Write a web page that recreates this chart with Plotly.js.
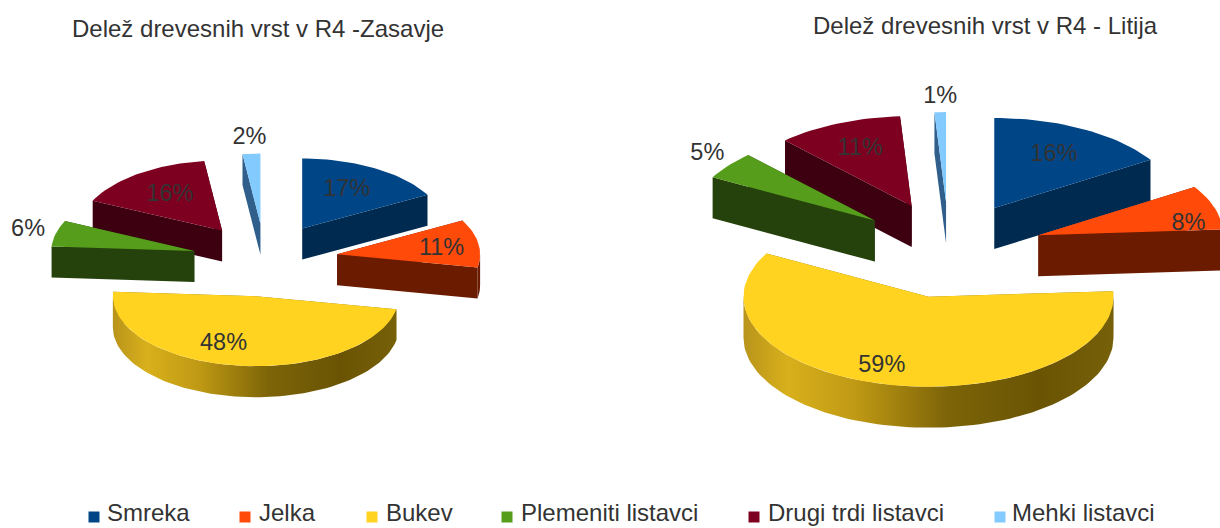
<!DOCTYPE html>
<html><head><meta charset="utf-8">
<script src="https://cdn.plot.ly/plotly-3.0.1.min.js"></script>
<style>html,body{margin:0;padding:0;background:#fff}#c{width:1220px;height:528px}</style>
</head><body><div id="c"></div>
<script>
// --- data ---
const species = ["Smreka","Jelka","Bukev","Plemeniti listavci","Drugi trdi listavci","Mehki listavci"];
const zasavjeShare = [17,11,48,6,16,2];
const litijaShare  = [16,8,59,5,11,1];
const zasavjeTitle = "Delež drevesnih vrst v R4 -Zasavje";
const litijaTitle  = "Delež drevesnih vrst v R4 - Litija";

// --- styles ---
const topColor  = ["#004586","#ff4a0a","#ffd320","#579d1c","#7e0021","#83caff"];
const sideColor = ["#002a50","#6b1c00","#8a7010","#25420c","#3c0010","#2f5f8a"];
const bukevGradient = [[0,"#b8941a"],[0.12,"#d8b01c"],[0.3,"#c09a14"],[0.55,"#7d6408"],[0.8,"#6a5404"],[1,"#766008"]];
const textColor = "#333333";
const fontName = "Liberation Sans, Arial, sans-serif";

// --- drawing geometry of the two exploded pies ---
const zasavjeGeo = {cx:265, cy:260, rx:143, ry:70, k:0.5, pull:73, depth:31,
  labelFrac:[0.64,0.74,0.63,1.2,0.62,1.22], nudgeX:[-2,0,-21,0,0,0], nudgeY:[0,3,4,0,0,0]};
const litijaGeo  = {cx:949, cy:250, rx:185, ry:90, k:0.51, pull:94, depth:41,
  labelFrac:[0.68,0.87,0.76,1.2,0.7,1.19], nudgeX:[-1,-3,-16,8,0,1], nudgeY:[1,13,3,0,1,2]};
const drawOrder = [0,5,4,3,1,2];

// --- legend placement ---
const legendMarkerX = [94,245,372,507,754,1000];
const legendTextX = [107,259,386,521,768,1012];
const legendRowY = 515;

const rad = d => d*Math.PI/180;
function rim(c, g, a){ return [c[0]+g.rx*Math.sin(rad(a)), c[1]-g.ry*Math.cos(rad(a))]; }
function arc(c, g, a0, a1){
  const n = Math.max(2, Math.ceil(Math.abs(a1-a0)/2)), pts = [];
  for(let i=0;i<=n;i++) pts.push(rim(c, g, a0+(a1-a0)*i/n));
  return pts;
}
function poly(pts, color, extra){
  return Object.assign({type:"scatter", mode:"lines", x:pts.map(p=>p[0]).concat(pts[0][0]),
    y:pts.map(p=>p[1]).concat(pts[0][1]), fill:"toself", fillcolor:color,
    line:{width:0, color:color}, hoverinfo:"skip", showlegend:false}, extra||{});
}
function pieTraces(values, g){
  const total = values.reduce((a,b)=>a+b,0);
  let cum = 0;
  const sl = values.map(v=>{const a0=cum/total*360; cum+=v; const a1=cum/total*360;
    const m=(a0+a1)/2;
    return {a0,a1,m,c:[g.cx+g.pull*Math.sin(rad(m)), g.cy-g.pull*g.k*Math.cos(rad(m))]};});
  const traces=[];
  const lx=[],ly=[],lt=[];
  drawOrder.forEach(i=>{
    const s=sl[i], d=g.depth, col=sideColor[i];
    const down=p=>[p[0],p[1]+d];
    [s.a0,s.a1].forEach(a=>{
      const r=rim(s.c,g,a);
      traces.push(poly([s.c,r,down(r),down(s.c)],col));
    });
    const f0=Math.max(s.a0,90), f1=Math.min(s.a1,270);
    if(f1>f0){
      const up=arc(s.c,g,f0,f1);
      const wall=up.concat(up.slice().reverse().map(down));
      const extra = i===2 ? {fillgradient:{type:"horizontal",colorscale:bukevGradient}} : {};
      traces.push(poly(wall,col,extra));
    }
  });
  drawOrder.forEach(i=>{
    const s=sl[i];
    traces.push(poly([s.c].concat(arc(s.c,g,s.a0,s.a1)),topColor[i]));
    const f=g.labelFrac[i];
    lx.push(s.c[0]+f*g.rx*Math.sin(rad(s.m))+g.nudgeX[i]);
    ly.push(s.c[1]-f*g.ry*Math.cos(rad(s.m))+g.nudgeY[i]);
    lt.push(values[i]+"%");
  });
  traces.push({type:"scatter",mode:"text",x:lx,y:ly,text:lt,textposition:"middle center",
    textfont:{family:fontName,size:23.5,color:textColor},hoverinfo:"skip",showlegend:false,cliponaxis:false});
  return traces;
}
const legendMarkers = species.map((n,i)=>({type:"scatter",mode:"markers",x:[legendMarkerX[i]],y:[legendRowY+2],
  name:n,marker:{symbol:"square",size:11,color:topColor[i]},hoverinfo:"skip",showlegend:false,cliponaxis:false}));
const legendTexts = {type:"scatter",mode:"text",x:legendTextX,y:species.map(()=>legendRowY),text:species,
  textposition:"middle right",textfont:{family:fontName,size:24,color:textColor},
  hoverinfo:"skip",showlegend:false,cliponaxis:false};

const data = pieTraces(zasavjeShare,zasavjeGeo).concat(pieTraces(litijaShare,litijaGeo),legendMarkers,[legendTexts]);
const axisX={range:[0,1220],visible:false,fixedrange:true};
const axisY={range:[528,0],visible:false,fixedrange:true};
const layout={width:1220,height:528,margin:{l:0,r:0,t:0,b:0},paper_bgcolor:"#fff",plot_bgcolor:"#fff",
  xaxis:axisX,yaxis:axisY,showlegend:false,
  font:{family:fontName,color:textColor},
  annotations:[
    {text:zasavjeTitle,xref:"x",yref:"y",x:258,y:28,showarrow:false,font:{size:24,color:textColor}},
    {text:litijaTitle,xref:"x",yref:"y",x:985,y:25,showarrow:false,font:{size:24,color:textColor}}
  ]};
Plotly.newPlot("c",data,layout,{displayModeBar:false,staticPlot:true});
</script></body></html>
